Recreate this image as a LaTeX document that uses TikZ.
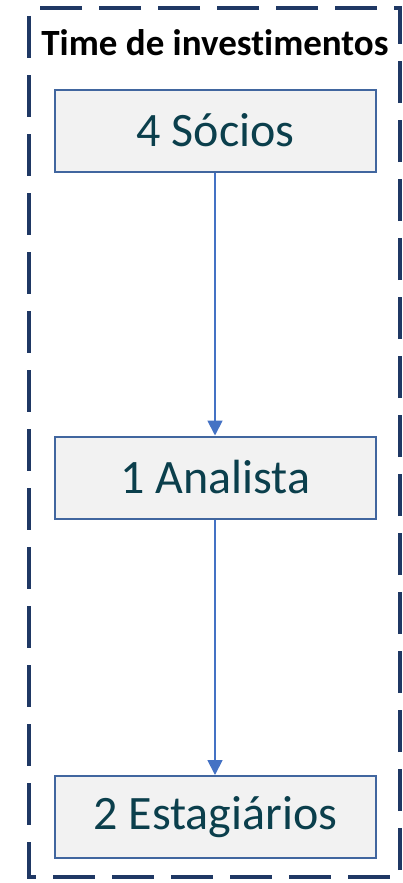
\documentclass[tikz,border=0pt]{standalone}
\usepackage{fontspec}
\setmainfont{Carlito}[Ligatures={NoCommon,NoContextual}]
\usetikzlibrary{arrows.meta}
\definecolor{framec}{HTML}{1F3864}
\definecolor{boxline}{HTML}{41669F}
\definecolor{boxfill}{HTML}{F2F2F2}
\definecolor{txtc}{HTML}{0B3F4C}
\definecolor{arrc}{HTML}{4472C4}
\begin{document}
\begin{tikzpicture}[x=1pt,y=-1pt,
  stagebox/.style={draw=boxline,line width=2pt,fill=boxfill,minimum width=321pt,minimum height=82pt,inner sep=0pt,text=txtc,font=\fontsize{48}{52}\selectfont},
  link/.style={draw=arrc,line width=1.8pt,-{Triangle[length=15pt,width=15pt]}}]
\useasboundingbox (0,0) rectangle (403,883);
\draw[framec,line width=4pt,dash pattern=on 42pt off 17pt,dash phase=-8pt] (29,8) rectangle (400,877);
\node[font=\fontsize{37}{40}\selectfont\bfseries,text=black,inner sep=0pt] (title) at (215,43) {Time de investimentos};
\node[stagebox] (s) at (215.5,130.5) {4 Sócios};
\node[stagebox] (a) at (215.5,477.5) {1 Analista};
\node[stagebox] (e) at (215.5,817) {2 Estagiários};
\draw[link] (s.south -| 215,0) -- (a.north -| 215,0);
\draw[link] (a.south -| 215,0) -- (e.north -| 215,0);
\end{tikzpicture}
\end{document}
